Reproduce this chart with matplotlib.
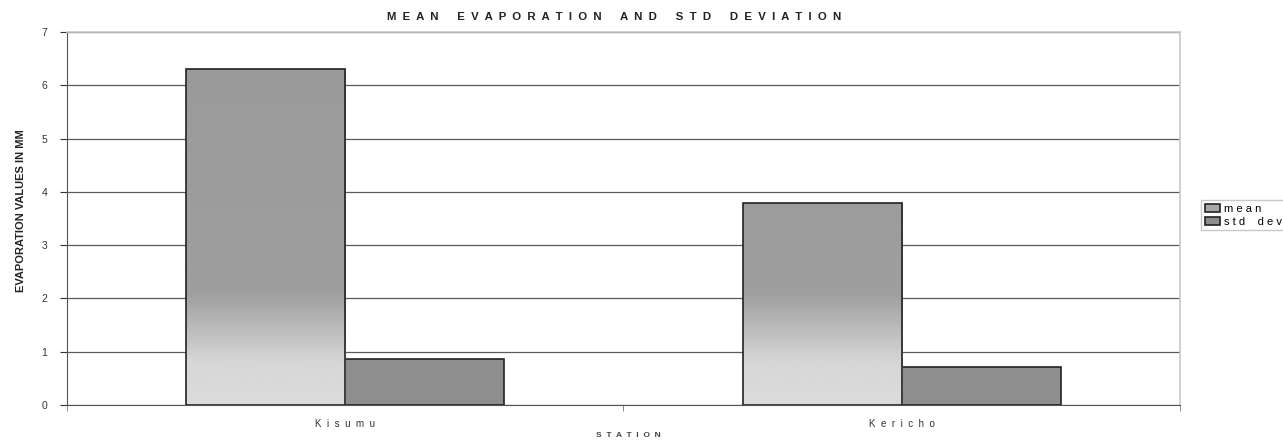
import numpy as np
import matplotlib.pyplot as plt

plt.rcParams['font.family'] = ['Liberation Sans', 'DejaVu Sans']

stations = ["Kisumu", "Kericho"]
mean_evap = [6.30, 3.79]
std_dev = [0.86, 0.71]
series_names = ["mean", "std dev"]


def spaced(s, gap=1, word_gap=3):
    # letter-spaced text, wider gap between words
    return (" " * word_gap).join((" " * gap).join(w) for w in s.split(" "))


fig = plt.figure(figsize=(12.83, 4.4), dpi=100)
ax = fig.add_axes([0.0522, 0.0795, 0.8675, 0.8475])

x = np.arange(len(stations))
w = 0.286

mean_bars = ax.bar(x - w / 2, mean_evap, w, color="#a0a0a0", edgecolor="#222222",
                   linewidth=1.2, zorder=3, label=spaced(series_names[0], 1, 4))
std_bars = ax.bar(x + w / 2, std_dev, w, color="#8e8e8e", edgecolor="#222222",
                  linewidth=1.2, zorder=3, label=spaced(series_names[1], 1, 4))

# vertical gradient for the mean bars: light near the base, darker above
yy = np.linspace(0, 7, 400)
shade = np.interp(yy, [0, 0.8, 2.1, 7], [0.86, 0.84, 0.62, 0.60])
grad = np.repeat(shade[:, None], 2, axis=1)
for b in mean_bars:
    x0 = b.get_x()
    im = ax.imshow(grad, cmap="gray", vmin=0, vmax=1, origin="lower", aspect="auto",
                   extent=[x0, x0 + b.get_width(), 0, 7], zorder=3.5,
                   interpolation="bilinear")
    im.set_clip_path(b)
    b.set_facecolor("none")
    b.set_zorder(4)

ax.set_xlim(-0.5, 1.5)
ax.set_ylim(0, 7)
ax.set_yticks(range(0, 8))
ax.yaxis.grid(True, color="#5a5a5a", linewidth=0.9, zorder=1)
ax.set_axisbelow(True)
ax.tick_params(axis="y", labelsize=7.5, colors="#333333", length=5, width=0.8, pad=9)

ax.set_xticks(x)
ax.set_xticklabels([spaced(s, 2) for s in stations], fontsize=7)
ax.set_xticks([-0.5, 0.5, 1.5], minor=True)
ax.tick_params(axis="x", which="major", length=0, pad=10, labelcolor="#333333")
ax.tick_params(axis="x", which="minor", length=4, width=0.6, color="#777777")

for side in ["top", "right"]:
    ax.spines[side].set_color("#c8c8c8")
    ax.spines[side].set_linewidth(1.2)
ax.spines["left"].set_color("#555555")
ax.spines["bottom"].set_color("#555555")

ax.set_ylabel("EVAPORATION VALUES IN MM", fontsize=8, fontweight="bold",
              color="#222222")
ax.yaxis.set_label_coords(-0.037, 0.52)
ax.set_xlabel(spaced("STATION", 2), fontsize=6, fontweight="bold", color="#444444")
ax.xaxis.set_label_coords(0.504, -0.072)

fig.text(0.479, 0.962, spaced("MEAN EVAPORATION AND STD DEVIATION", 2, 6),
         ha="center", va="center", fontsize=8.2, fontweight="bold", color="#222222")

leg = fig.legend(loc="upper left", bbox_to_anchor=(0.932, 0.557), fontsize=8,
                 frameon=True, fancybox=False, handlelength=1.4, handleheight=0.7,
                 handletextpad=0.3, borderpad=0.3, labelspacing=0.25)
leg.get_frame().set_edgecolor("#bbbbbb")
leg.get_frame().set_linewidth(1.0)
leg.legend_handles[0].set_facecolor("#a8a8a8")

fig.savefig("out.png", dpi=100)
